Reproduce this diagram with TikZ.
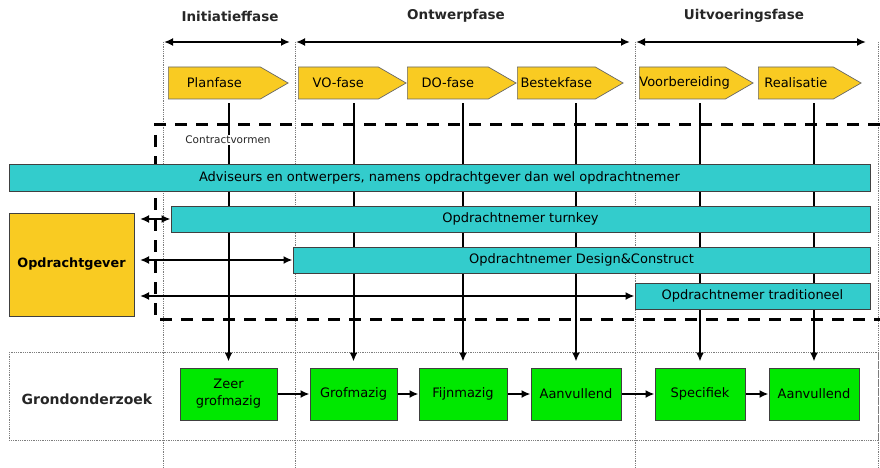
\documentclass[tikz,border=0pt]{standalone}
\usepackage{fontspec}
\setmainfont{DejaVu Sans}
\usetikzlibrary{%
  arrows.meta,%
  shapes.symbols,% wg. signal
  positioning% wg. " of "
}
\definecolor{fasegeel}{RGB}{249,203,34}
\definecolor{contractcyaan}{RGB}{51,204,204}
\definecolor{grondgroen}{RGB}{0,232,0}
\definecolor{rasterlijn}{RGB}{125,125,125}

\tikzset{
  fase/.style={signal, signal to=east, signal pointer angle=60, draw=black!60,
    line width=0.7pt, fill=fasegeel, minimum height=32pt, inner xsep=0pt,
    inner ysep=0pt, align=center, anchor=west, font=\fontsize{13}{15}\selectfont},
  contract/.style={rectangle, draw=black!75, line width=1pt, fill=contractcyaan,
    minimum height=26pt, inner sep=0pt, font=\fontsize{13}{15}\selectfont},
  onderzoek/.style={rectangle, draw=black!75, line width=1pt, fill=grondgroen,
    minimum height=52pt, inner sep=0pt, align=center, font=\fontsize{13}{17}\selectfont},
  kop/.style={font=\bfseries\fontsize{13.5}{16}\selectfont, text=black!85},
  raster/.style={rasterlijn, densely dotted, line width=0.8pt},
}

\begin{document}
\begin{tikzpicture}[x=1pt,y=-1pt,>={Latex[length=9pt,width=8pt]},line width=2pt]
  \useasboundingbox (0,0) rectangle (880,468);

  %fasegrenzen
  \coordinate (g1) at (163,42);
  \coordinate (g2) at (295,42);
  \coordinate (g3) at (635,42);
  \coordinate (g4) at (878,42);
  \foreach \g in {g1,g2,g3,g4}
    \draw[raster] (\g) -- ++(0,426);

  \node[kop] (initiatief) at (230,16) {Initiatieffase};
  \node[kop] (ontwerp) at (456,16) {Ontwerpfase};
  \node[kop] (uitvoering) at (744,16) {Uitvoeringsfase};
  \draw[<->, shorten <=1pt, shorten >=5pt] (g1) -- (g2);
  \draw[<->, shorten <=1pt, shorten >=5pt] (g2) -- (g3);
  \draw[<->, shorten <=1pt, shorten >=12pt] (g3) -- (g4);

  %fasen
  \node[fase, text width=92pt] (plan) at (168,83) {Planfase};
  \node[fase, text width=80pt] (vo) at (298,83) {VO-fase};
  \node[fase, text width=81pt] (do) at (407,83) {DO-fase};
  \node[fase, text width=78pt] (bestek) at (517,83) {Bestekfase};
  \node[fase, text width=86pt] (voorbereiding) at (639,83) {\mbox{Voorbereiding}};
  \node[fase, text width=75pt] (realisatie) at (758,83) {Realisatie};

  %grondonderzoek
  \draw[raster] (9,352) rectangle (878,440);
  \node[font=\bfseries\fontsize{14}{16}\selectfont, text=black!85] (grondonderzoek) at (87,399) {Grondonderzoek};
  \node[onderzoek, minimum width=97pt] (zeergrof) at (228.5,394) {Zeer\\grofmazig};
  \node[onderzoek, minimum width=87pt] (grof) [right=32pt of zeergrof] {Grofmazig};
  \node[onderzoek, minimum width=88pt] (fijn) [right=21pt of grof] {Fijnmazig};
  \node[onderzoek, minimum width=90pt] (aanvullend) [right=23pt of fijn] {Aanvullend};
  \node[onderzoek, minimum width=90pt] (specifiek) [right=33pt of aanvullend] {Specifiek};
  \node[onderzoek, minimum width=90pt] (aanvullendtwee) [right=23pt of specifiek] {Aanvullend};

  \path[->, shorten <=4pt, shorten >=6pt]
    (plan.south -| zeergrof.north) edge (zeergrof.north)
    (vo.south -| grof.north) edge (grof.north)
    (do.south -| fijn.north) edge (fijn.north)
    (bestek.south -| aanvullend.north) edge (aanvullend.north)
    (voorbereiding.south -| specifiek.north) edge (specifiek.north)
    (realisatie.south -| aanvullendtwee.north) edge (aanvullendtwee.north);

  \path[->]
    (zeergrof) edge (grof)
    (grof) edge (fijn)
    (fijn) edge (aanvullend)
    (aanvullend) edge (specifiek)
    (specifiek) edge (aanvullendtwee);

  %contractvormen
  \draw[line width=3pt, dash pattern=on 12pt off 9pt]
    (880,125) -- (155,125) -- (155,319) -- (880,319);
  \node[font=\fontsize{10.5}{12}\selectfont, fill=white, inner sep=1.5pt, text=black!85] (contractvormen) at (228,140) {Contractvormen};

  \node[contract, minimum width=861pt, minimum height=27pt] (adviseurs) at (439.5,177.5) {Adviseurs en ontwerpers, namens opdrachtgever dan wel opdrachtnemer};
  \node[contract, minimum width=699pt] (turnkey) at (520.5,219) {Opdrachtnemer turnkey};
  \node[contract, minimum width=577pt] (designconstruct) at (581.5,260) {Opdrachtnemer Design\&Construct};
  \node[contract, minimum width=235pt] (traditioneel) at (752.5,296) {Opdrachtnemer traditioneel};

  \node[rectangle, draw=black!75, line width=1pt, fill=fasegeel, minimum width=125pt,
    minimum height=103pt, font=\bfseries\fontsize{12.8}{15}\selectfont] (opdrachtgever) at (71.5,264.5) {Opdrachtgever};

  \path[<->, shorten <=5.5pt]
    (opdrachtgever.east |- turnkey.west) edge (turnkey.west)
    (opdrachtgever.east |- designconstruct.west) edge (designconstruct.west)
    (opdrachtgever.east |- traditioneel.west) edge (traditioneel.west);
\end{tikzpicture}
\end{document}
